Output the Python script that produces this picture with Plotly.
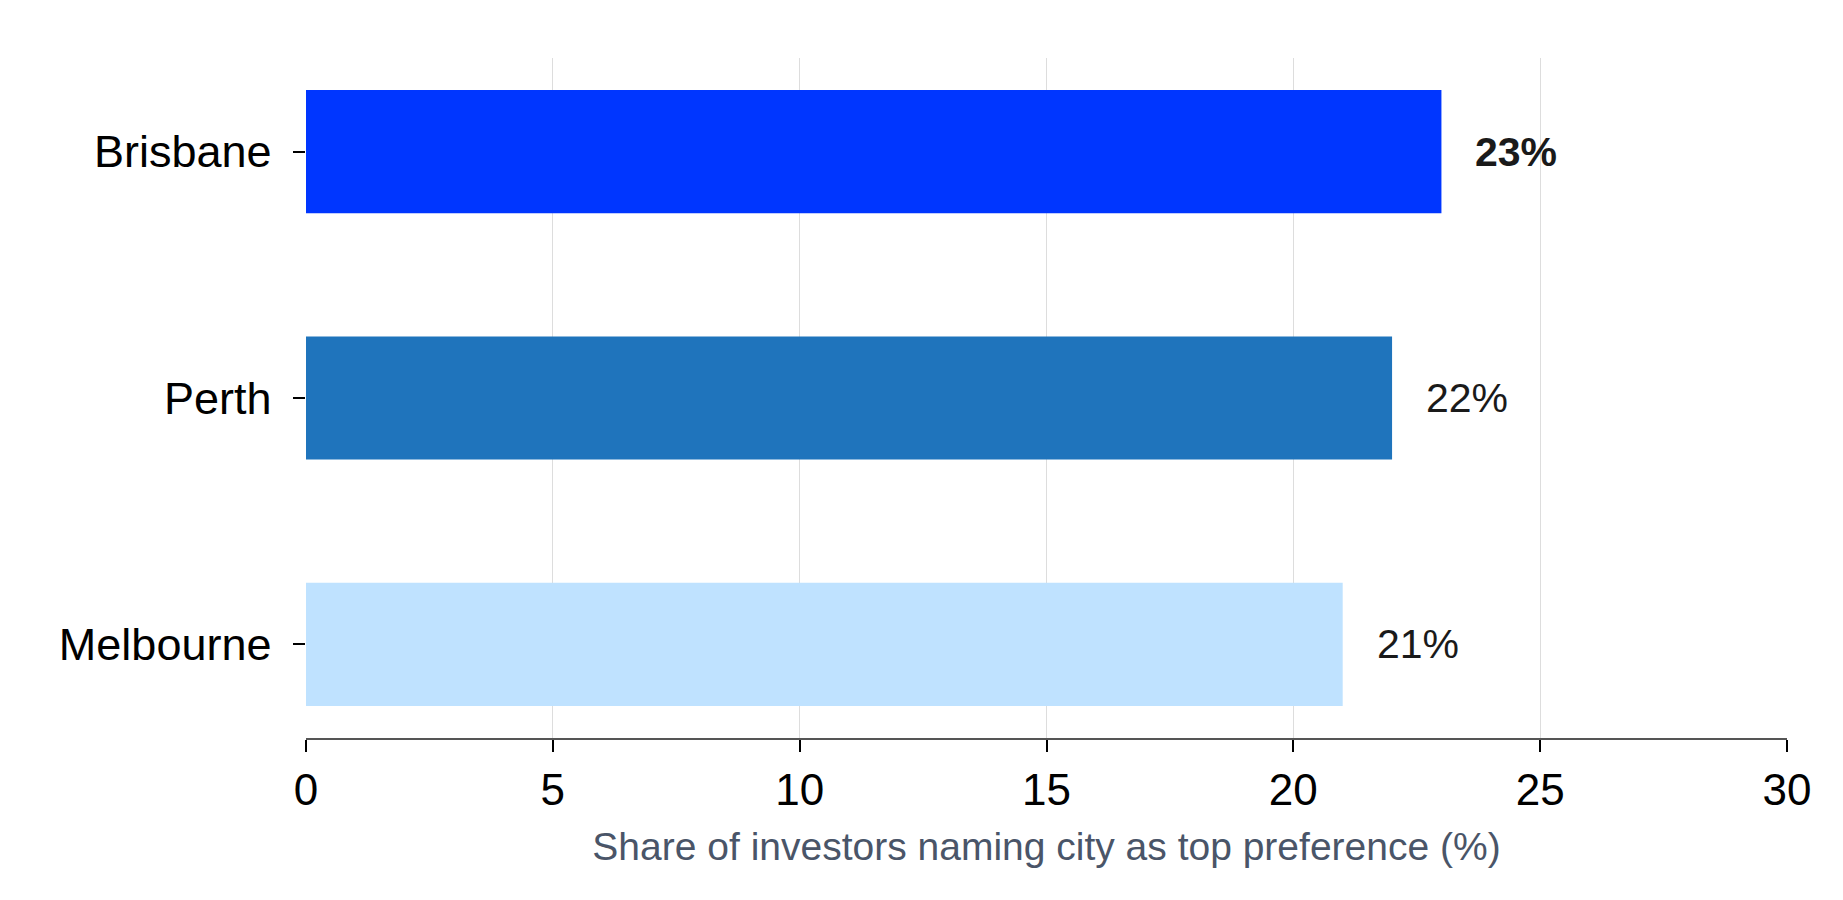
import plotly.graph_objects as go

# data
cities = ["Melbourne", "Perth", "Brisbane"]
shares = [21, 22, 23]
colors = ["#bfe2ff", "#1f74bc", "#0036ff"]
labels = ["21%", "22%", "<b>23%</b>"]

fig = go.Figure()
fig.add_trace(go.Bar(
    x=shares, y=cities, orientation="h",
    marker=dict(color=colors, line=dict(width=0)),
    width=0.5, showlegend=False, hoverinfo="skip",
))

# value labels to the right of each bar
for c, v, t in zip(cities, shares, labels):
    fig.add_annotation(x=v, y=c, text=t, showarrow=False, xanchor="left",
                       xshift=32, font=dict(size=41, color="#1a1a1a"))

fig.update_layout(
    width=1843, height=900,
    plot_bgcolor="white", paper_bgcolor="white",
    font=dict(family="Liberation Sans, Arial, sans-serif", color="black"),
    margin=dict(l=298, r=64, t=50, b=170),
    bargap=0.5,
)
fig.update_xaxes(
    range=[0, 30], dtick=5, showgrid=True, gridcolor="#dddddd", gridwidth=1,
    showline=True, linecolor="#555555", linewidth=2,
    ticks="outside", ticklen=12, tickcolor="black", tickwidth=2,
    tickfont=dict(size=44), zeroline=False,
    title=dict(text="Share of investors naming city as top preference (%)",
               font=dict(size=39, color="#4a5568"), standoff=20),
)
fig.update_yaxes(
    range=[-0.38, 2.38], showgrid=False, showline=False,
    ticks="outside", ticklen=12, tickcolor="black", tickwidth=2,
    tickfont=dict(size=45), ticksuffix=" ",
)

fig.write_html("out.html")
